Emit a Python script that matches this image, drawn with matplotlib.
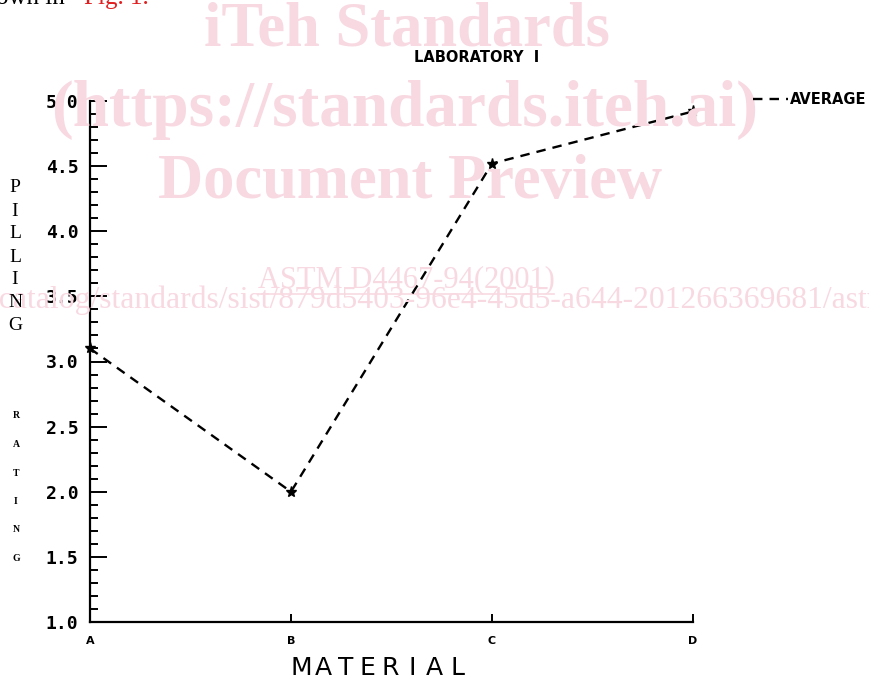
import matplotlib
matplotlib.use("Agg")
import matplotlib.pyplot as plt
from matplotlib.lines import Line2D
from matplotlib.ticker import MultipleLocator

# chart data
materials = ['A', 'B', 'C', 'D']
avg_rating = [3.10, 2.00, 4.52, 4.92]
y_ticks = [1.0, 1.5, 2.0, 2.5, 3.0, 3.5, 4.0, 4.5, 5.0]
y_tick_labels = ['%.1f' % v for v in y_ticks]

W, H = 869, 685
PINK = '#f8d9e2'

fig = plt.figure(figsize=(W / 100, H / 100), dpi=100)
fig.patch.set_facecolor('white')


def fx(px):
    return px / W


def fy(py):
    return 1 - py / H


# page watermark / surrounding document text
wm = dict(family='Liberation Serif', weight='bold', color=PINK, ha='center', va='center', zorder=0)
fig.text(fx(407), fy(30), 'iTeh Standards', fontsize=45, **wm)
fig.text(fx(405), fy(110), '(https://standards.iteh.ai)', fontsize=47, **wm)
fig.text(fx(410), fy(183), 'Document Preview', fontsize=45, **wm)

astm = fig.text(fx(406), fy(280), 'ASTM D4467-94(2001)', fontsize=22, family='Liberation Serif',
                color=PINK, ha='center', va='center', zorder=0)
fig.text(fx(-10), fy(300), '/catalog/standards/sist/879d5403-96e4-45d5-a644-201266369681/astm-d4467-942001',
         fontsize=22.8, family='Liberation Serif', color=PINK, ha='left', va='center', zorder=0)

fig.text(fx(-4), fy(-2), 'own in', fontsize=18, family='Liberation Serif', color='black', ha='left', va='center')
fig.text(fx(84), fy(-2), 'Fig. 1.', fontsize=18, family='Liberation Serif', color='#e02020', ha='left', va='center')

# main axes
ax = fig.add_axes([fx(90), fy(622), fx(693) - fx(90), fy(101) - fy(622)])
ax.set_facecolor('none')
x = list(range(len(materials)))
ax.plot(x, avg_rating, color='black', lw=1.7, ls=(0, (4, 3)), marker='*', ms=8,
        clip_on=False, zorder=3)
ax.set_xlim(0, len(materials) - 1)
ax.set_ylim(1.0, 5.0)

for s in ['top', 'right']:
    ax.spines[s].set_visible(False)
for s in ['left', 'bottom']:
    ax.spines[s].set_linewidth(1.6)

ax.set_xticks(x)
ax.set_xticklabels(materials, fontsize=8, fontweight='bold', family='DejaVu Sans')
ax.set_yticks(y_ticks)
ax.set_yticklabels(y_tick_labels, fontsize=13, fontweight='bold', family='DejaVu Sans Mono')
ax.yaxis.set_minor_locator(MultipleLocator(0.1))
ax.tick_params(axis='y', which='major', direction='in', length=12, width=1.4, pad=8.5)
ax.tick_params(axis='y', which='minor', direction='in', length=6, width=1.4)
ax.tick_params(axis='x', which='major', direction='in', length=6, width=1.4, pad=10)

# title, legend, axis labels
fig.text(fx(477), fy(57), 'LABORATORY  I', fontsize=10.5, fontweight='bold', family='DejaVu Sans',
         ha='center', va='center')
handle = Line2D([], [], color='black', lw=1.7, ls=(0, (4, 3)))
fig.legend([handle], ['AVERAGE'], loc='center left', bbox_to_anchor=(fx(753), fy(100)),
           frameon=False, handlelength=2.4, handletextpad=0.15, borderpad=0, borderaxespad=0,
           prop={'family': 'DejaVu Sans', 'weight': 'bold', 'size': 10.5})

for i, ch in enumerate('MATERIAL'):
    fig.text(fx(301 + i * 22.3), fy(668), ch, fontsize=18, family='DejaVu Sans',
             ha='center', va='center')

for i, ch in enumerate('PILLING'):
    fig.text(fx(15), fy(188 + i * 23), ch, fontsize=14, family='Liberation Serif',
             ha='center', va='center')
for i, ch in enumerate('RATING'):
    fig.text(fx(16), fy(416 + i * 28.5), ch, fontsize=7, fontweight='bold', family='Liberation Serif',
             ha='center', va='center')

# underline the ASTM link text
fig.canvas.draw()
bb = astm.get_window_extent().transformed(fig.transFigure.inverted())
fig.add_artist(Line2D([bb.x0, bb.x1], [bb.y0, bb.y0], color=PINK, lw=1.2, transform=fig.transFigure, zorder=0))

fig.savefig('out.png', dpi=100)
